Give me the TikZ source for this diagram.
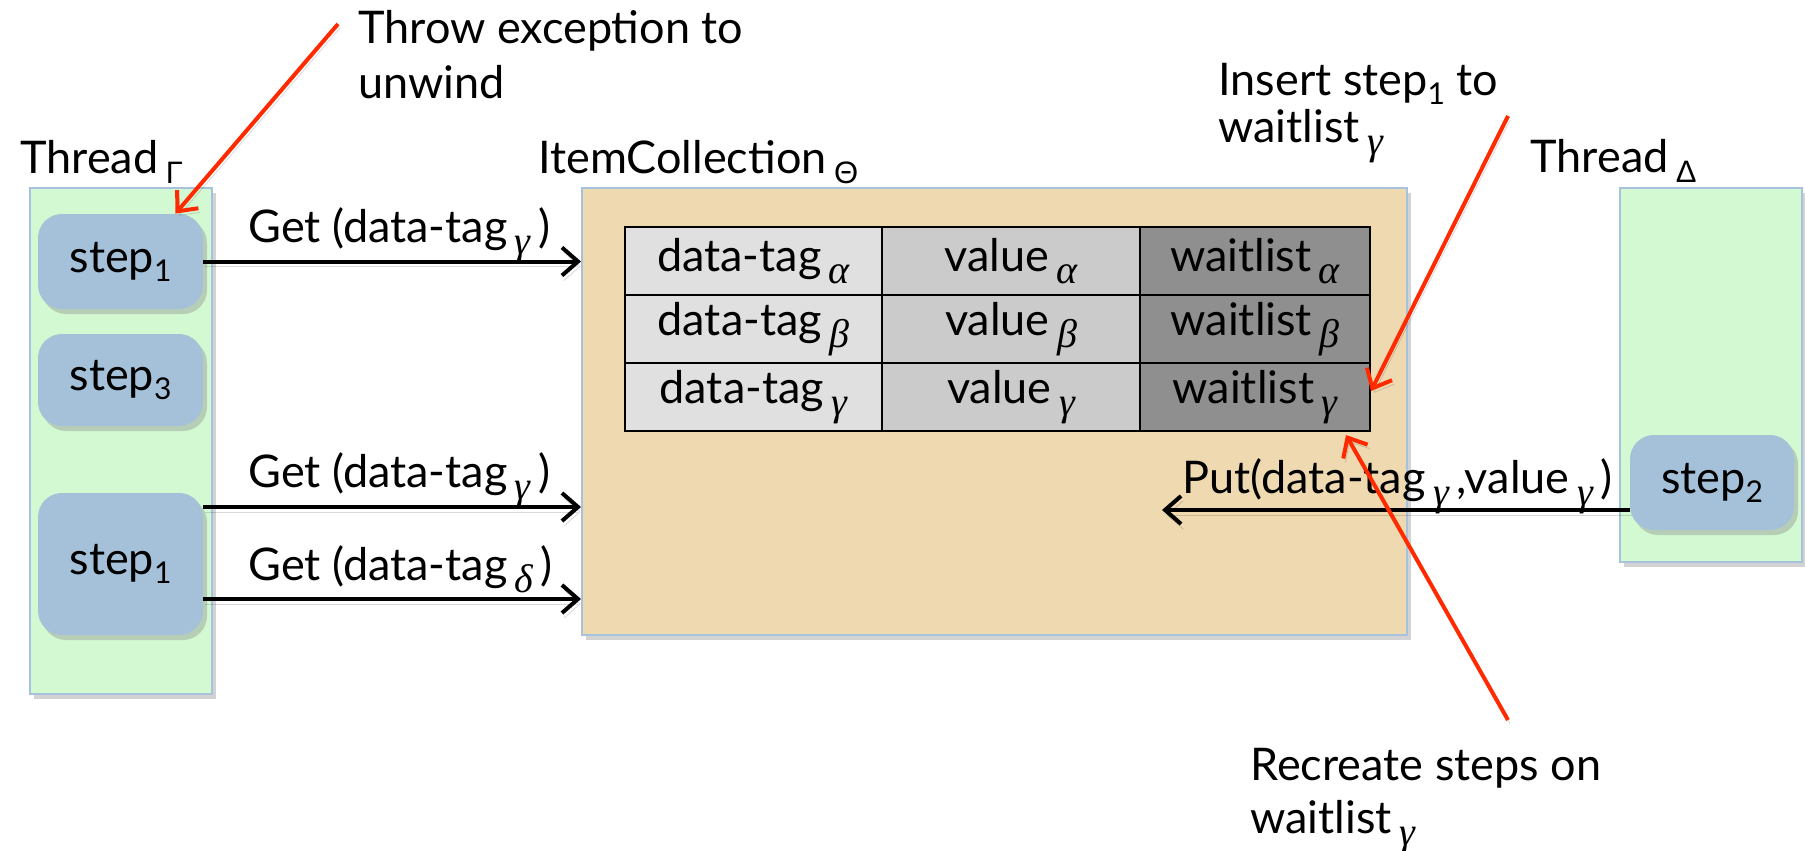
\documentclass[tikz,border=0pt]{standalone}
\usepackage{fontspec}
\setmainfont{Lato}
\newfontfamily\grk{Liberation Sans}
\newfontfamily\grki{Liberation Serif}
\usetikzlibrary{arrows.meta,shadows,calc}
\definecolor{thr}{HTML}{D3F9D3}
\definecolor{bord}{HTML}{A6C2DC}
\definecolor{stp}{HTML}{A5C1DA}
\definecolor{icf}{HTML}{EED9B0}
\definecolor{cA}{HTML}{E0E0E0}
\definecolor{cB}{HTML}{CBCBCB}
\definecolor{cC}{HTML}{8F8F8F}
\definecolor{redl}{HTML}{FF2A00}
% italic greek subscript
\newcommand\gsb[1]{\,\raisebox{-6pt}{\fontsize{20}{20}\selectfont\grki\itshape #1}}
% upright greek subscript
\newcommand\usb[1]{\,\raisebox{-5pt}{\fontsize{15.5}{15.5}\selectfont\grk #1}}
% digit subscript
\newcommand\dsb[1]{\raisebox{-4.5pt}{\fontsize{15}{15}\selectfont #1}}
\begin{document}
\begin{tikzpicture}[x=0.5pt,y=-0.5pt,
  every node/.style={font=\fontsize{22.5}{27}\selectfont},
  shad/.style={drop shadow={opacity=0.35,shadow xshift=2pt,shadow yshift=-2.5pt}},
  thread/.style={draw=bord, fill=thr, line width=1pt, inner sep=0, shad},
  icbox/.style={draw=bord, fill=icf, line width=1pt, inner sep=0, shad},
  stepbox/.style={fill=stp, rounded corners=12pt, inner sep=0, minimum width=82.5pt, shad},
  cell/.style={draw=black, line width=1pt, minimum height=34pt, inner sep=0},
  lbl/.style={anchor=base west, inner sep=0},
  arr/.style={line width=2pt, -{Straight Barb[length=8pt,width=14pt]},
    preaction={draw=black, opacity=0.15, transform canvas={xshift=1pt,yshift=-2.5pt}}},
  redarr/.style={draw=redl, line width=2pt, -{Straight Barb[length=8pt,width=14pt]},
    preaction={draw=black, opacity=0.15, transform canvas={xshift=1pt,yshift=-2pt}}}
]
\useasboundingbox (0,0) rectangle (1805,851);

% threads and item collection
\node[thread, minimum width=91pt, minimum height=253pt] (tG) at (121,441) {};
\node[thread, minimum width=91pt, minimum height=187pt] (tD) at (1711,375) {};
\node[icbox, minimum width=412.5pt, minimum height=223.5pt] (ic) at (994.5,411.5) {};

\node[lbl] (tGl) at (20,173) {Thread\usb{Γ}};
\node[lbl] (tDl) at (1530,172) {Thread\usb{Δ}};
\node[lbl] (icl) at (538,173) {ItemCollection\usb{Θ}};

% steps
\node[stepbox, minimum height=47.5pt] (s1a) at (120.5,261.5) {step\dsb{1}};
\node[stepbox, minimum height=46pt] (s3) at (120.5,380) {step\dsb{3}};
\node[stepbox, minimum height=71pt] (s1b) at (120.5,564) {step\dsb{1}};
\node[stepbox, minimum width=82pt, minimum height=47.5pt] (s2) at (1712,482.5) {step\dsb{2}};

% table
\node[cell, fill=cA, minimum width=128.5pt] (d1) at (753.5,261) {data-tag\gsb{α}};
\node[cell, fill=cB, minimum width=129pt] (v1) at (1011,261) {value\gsb{α}};
\node[cell, fill=cC, minimum width=115pt] (w1) at (1255,261) {waitlist\gsb{α}};
\node[cell, fill=cA, minimum width=128.5pt] (d2) at (753.5,329) {data-tag\gsb{β}};
\node[cell, fill=cB, minimum width=129pt] (v2) at (1011,329) {value\gsb{β}};
\node[cell, fill=cC, minimum width=115pt] (w2) at (1255,329) {waitlist\gsb{β}};
\node[cell, fill=cA, minimum width=128.5pt] (d3) at (753.5,397) {data-tag\gsb{γ}};
\node[cell, fill=cB, minimum width=129pt] (v3) at (1011,397) {value\gsb{γ}};
\node[cell, fill=cC, minimum width=115pt] (w3) at (1255,397) {waitlist\gsb{γ}};

% Get arrows
\coordinate (yg2) at (0,507);
\coordinate (yg3) at (0,599);
\coordinate (yp) at (0,510);
\coordinate (putend) at (1162,510);
\draw[arr] (s1a.east) -- (s1a.east -| ic.west);
\draw[arr] (s1b.east |- yg2) -- (ic.west |- yg2);
\draw[arr] (s1b.east |- yg3) -- (ic.west |- yg3);
\node[lbl] (lg1) at (248,242) {Get (data-tag\gsb{γ}\,)};
\node[lbl] (lg2) at (248,487) {Get (data-tag\gsb{γ}\,)};
\node[lbl] (lg3) at (248,580) {Get (data-tag\gsb{δ}\,)};

% Put arrow
\draw[arr] (s2.west |- yp) -- (putend);
\node[lbl] (lp) at (1182,493) {Put(data-tag\gsb{γ}\,,value\gsb{γ}\,)};

% annotations
\node[lbl] (th1) at (358,43) {Throw exception to};
\node[lbl] (th2) at (358,98) {unwind};
\node[lbl] (in1) at (1218,95) {Insert step\dsb{1} to};
\node[lbl] (in2) at (1218,142) {waitlist\gsb{γ}};
\node[lbl] (re1) at (1250,780) {Recreate steps on};
\node[lbl] (re2) at (1250,833) {waitlist\gsb{γ}};

\coordinate (r1s) at (338,24);
\coordinate (r2s) at (1508,116);
\coordinate (r3s) at (1508,720);
\draw[redarr] (r1s) -- ($(s1a.north east)+(-28,0)$);
\draw[redarr] (r2s) -- ($(w3.east)+(0,-6)$);
\draw[redarr] (r3s) -- ($(w3.south east)+(-25,3)$);
\end{tikzpicture}
\end{document}
